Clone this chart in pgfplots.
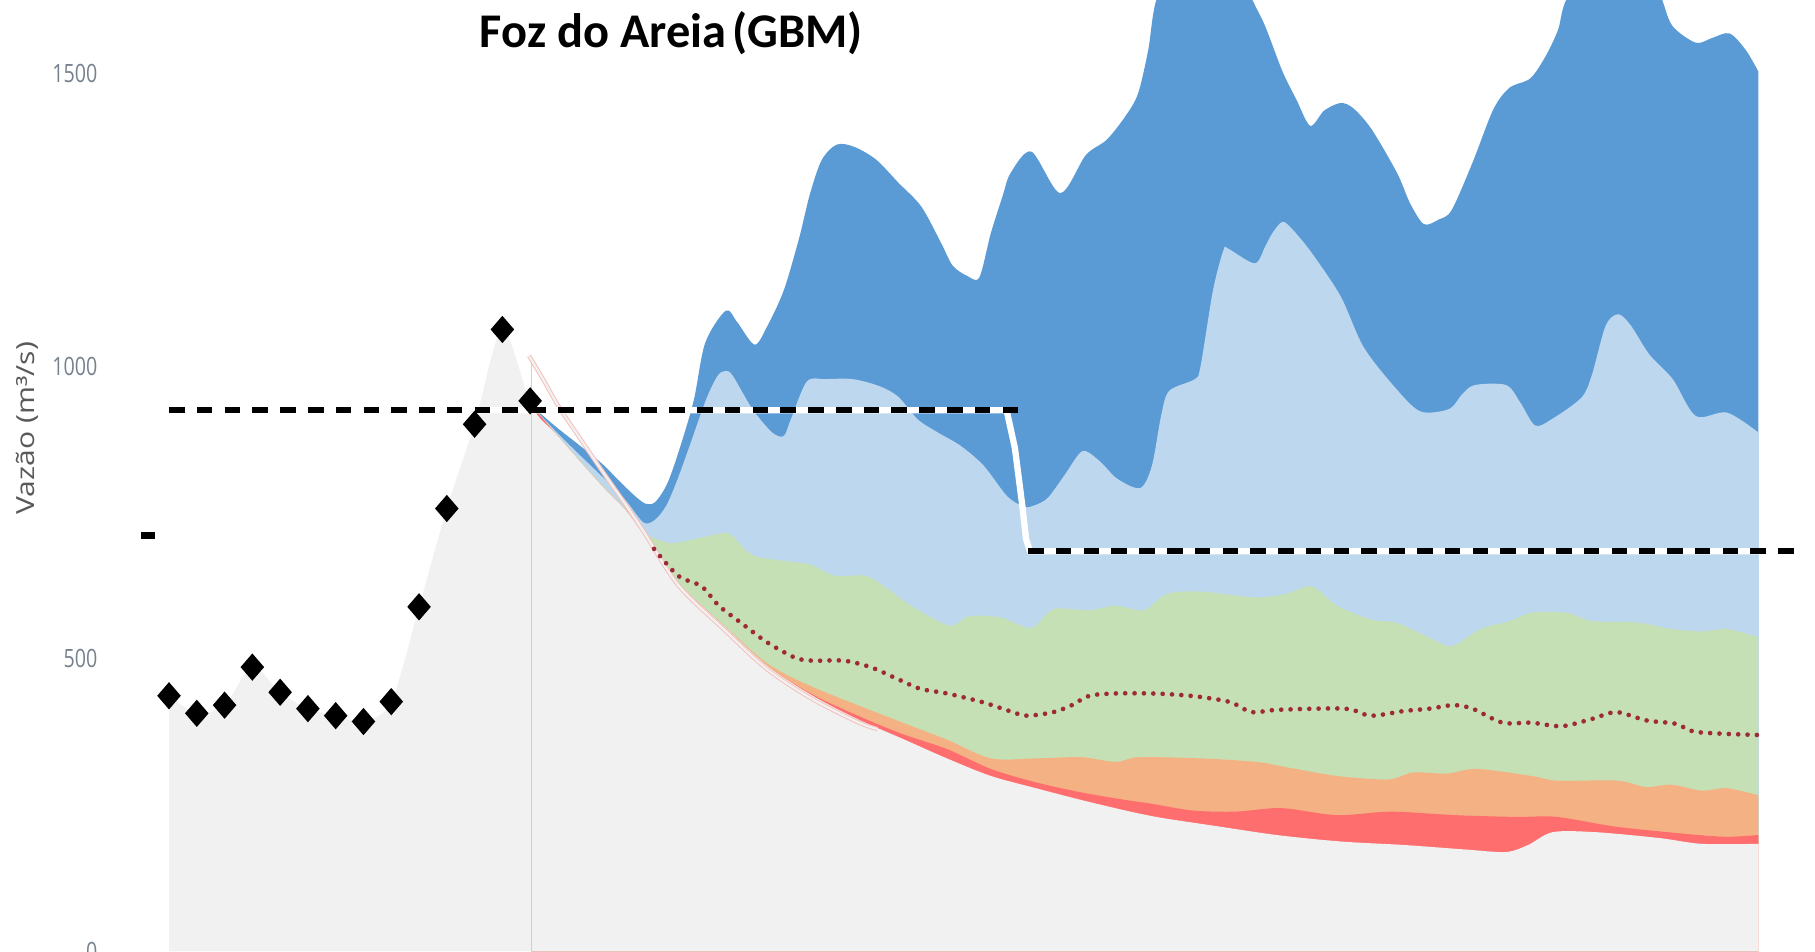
\documentclass[border=0pt]{standalone}
\usepackage{fontspec}
\usepackage{pgfplots}
\pgfplotsset{compat=1.18}
\setmainfont{Open Sans}
\newfontfamily\titlefont{Carlito}
\definecolor{dblue}{HTML}{5B9BD5}
\definecolor{lblue}{HTML}{BDD7EE}
\definecolor{lgreen}{HTML}{C5E0B4}
\definecolor{lorange}{HTML}{F4B183}
\definecolor{lred}{HTML}{FF6E6E}
\definecolor{grayfill}{HTML}{F1F1F1}
\definecolor{medred}{HTML}{9E2A36}
\definecolor{pinkline}{HTML}{F4C2BD}
\definecolor{tickgray}{HTML}{76818E}
\definecolor{labgray}{HTML}{595959}
\begin{document}
\begin{tikzpicture}
\begin{axis}[
  at={(10mm,0mm)}, anchor=south west,
  scale only axis, width=146.8mm, height=82.2mm,
  xmin=-1.917, xmax=59.25, ymin=0, ymax=1626,
  axis line style={draw=none},
  xtick=\empty,
  ytick={0,500,1000,1500},
  major tick length=0pt,
  /pgf/number format/assume math mode=true,
  /pgf/number format/1000 sep={},
  yticklabel={\scalebox{0.78}[1]{\pgfmathprintnumber{\tick}}},
  yticklabel style={font=\fontsize{6.2}{7}\selectfont, text=tickgray, xshift=-1pt},
  ylabel={\scalebox{1}[0.83]{Vazão (m³/s)}},
  ylabel style={at={(axis description cs:-0.0518,0.55)}, anchor=center, font=\fontsize{7.4}{9}\selectfont, text=labgray},
  clip=true,
]
% dark blue (upper envelope)
\addplot[draw=none, fill=dblue, smooth, tension=0.5] coordinates {
(13.04,933) (13.92,897) (14.75,866) (15.58,834) (16.25,802) (16.83,776) (17.17,765) (17.50,768) (17.92,798) (18.33,852) (18.88,940) (19.30,1040) (20.04,1095) (20.46,1075) (21.08,1037) (21.54,1069) (22.13,1130) (22.67,1217) (23.08,1296) (23.50,1353) (24.04,1379) (24.67,1375) (25.46,1353) (26.25,1314) (27.08,1273) (27.79,1211) (28.21,1172) (28.75,1154) (29.17,1152) (29.58,1227) (30.00,1290) (30.29,1330) (31.04,1367) (32.08,1296) (33.00,1361) (33.75,1387) (34.42,1427) (34.88,1466) (35.25,1541) (35.54,1626) (36.42,1720) (37.67,1760) (39.00,1626) (39.46,1581) (40.08,1504) (40.58,1456) (41.08,1411) (41.58,1437) (42.17,1450) (42.63,1441) (43.29,1405) (44.21,1330) (44.67,1279) (45.17,1243) (45.71,1251) (46.17,1267) (46.92,1348) (47.67,1439) (48.25,1476) (49.00,1492) (49.54,1529) (50.00,1575) (50.29,1626) (51.42,1720) (53.08,1720) (53.75,1626) (54.13,1581) (54.96,1553) (55.54,1561) (56.17,1569) (56.75,1541) (57.21,1504)
} \closedcycle;
% light blue
\addplot[draw=none, fill=lblue, smooth, tension=0.5] coordinates {
(13.04,933) (13.92,889) (14.75,850) (15.58,812) (16.42,772) (17.08,733) (17.50,738) (17.90,762) (18.29,805) (18.71,860) (19.33,943) (19.75,984) (20.04,992) (20.29,984) (21.00,927) (21.71,887) (22.13,881) (22.38,909) (22.96,974) (23.63,978) (24.63,978) (25.58,966) (26.25,948) (26.96,909) (27.67,887) (28.50,864) (29.33,830) (30.17,778) (30.79,760) (31.13,762) (31.63,775) (32.25,815) (32.88,855) (33.50,838) (34.13,808) (34.96,792) (35.38,830) (35.71,915) (36.00,958) (36.92,978) (37.13,1000) (37.58,1130) (37.96,1199) (38.13,1201) (39.08,1176) (39.46,1205) (39.71,1227) (40.08,1247) (40.46,1233) (41.13,1194) (42.17,1120) (43.00,1033) (44.13,964) (45.04,923) (46.08,927) (46.54,952) (47.00,968) (48.13,968) (48.63,939) (49.17,899) (49.75,909) (50.83,946) (51.21,984) (51.71,1069) (52.17,1089) (52.63,1069) (53.29,1020) (54.13,978) (54.96,915) (56.08,921) (57.21,887)
} \closedcycle;
% green
\addplot[draw=none, fill=lgreen, smooth, tension=0.5] coordinates {
(13.04,933) (13.92,886) (14.75,842) (15.58,798) (16.42,757) (17.08,716) (18.04,698) (18.92,705) (19.96,715) (20.29,710) (21.08,676) (23.00,662) (23.96,642) (25.08,642) (25.92,618) (26.71,591) (28.08,557) (28.79,573) (29.92,571) (31.04,553) (31.83,585) (33.13,583) (34.08,591) (35.08,583) (35.92,611) (37.13,615) (39.13,605) (40.21,611) (41.13,624) (42.04,591) (43.29,567) (44.17,562) (45.25,539) (46.17,522) (47.21,551) (48.29,565) (49.04,579) (50.29,579) (51.21,565) (52.88,562) (54.08,551) (55.17,547) (56.08,551) (57.21,537)
} \closedcycle;
% orange
\addplot[draw=none, fill=lorange, smooth, tension=0.5] coordinates {
(13.04,933) (13.92,885) (14.75,840) (15.58,796) (16.42,755) (17.08,713) (18.33,630) (19.96,558) (21.54,492) (23.17,452) (25.92,400) (28.00,362) (29.58,330) (31.21,330) (32.83,332) (34.08,324) (34.92,332) (37.13,330) (39.13,324) (40.21,315) (42.04,300) (43.88,294) (44.79,306) (46.00,304) (47.08,312) (49.04,300) (49.96,292) (52.13,292) (53.17,281) (54.08,285) (55.17,275) (56.08,279) (57.21,267)
} \closedcycle;
% red
\addplot[draw=none, fill=lred, smooth, tension=0.5] coordinates {
(13.04,933) (13.92,885) (14.75,840) (15.58,796) (16.42,755) (17.08,713) (18.33,630) (19.96,557) (21.54,488) (23.17,439) (24.79,403) (26.38,372) (28.00,346) (29.58,312) (31.21,289) (32.83,272) (34.42,259) (35.31,253) (36.83,241) (38.38,239) (40.04,245) (42.04,233) (44.00,239) (46.29,233) (48.46,230) (49.96,230) (52.13,213) (54.83,200) (56.08,196) (57.21,199)
} \closedcycle;
% gray: observed + lower envelope
\addplot[draw=none, fill=grayfill, smooth, tension=0.5] coordinates {
(0,437) (1,407) (2,421) (3,486) (4,443) (5,415) (6,403) (7,393) (8,427) (9,589) (10,757) (11,901) (12,1063) (13.04,933) (13.92,885) (14.75,840) (15.58,796) (16.42,755) (17.08,713) (18.33,630) (19.96,557) (21.54,488) (23.17,437) (24.79,397) (26.38,364) (28.00,330) (29.58,300) (31.21,279) (32.83,259) (34.42,241) (35.31,232) (36.04,226) (37.60,215) (39.88,199) (42.17,188) (44.46,182) (46.75,174) (48.13,170) (48.92,182) (49.81,204) (51.33,204) (53.63,194) (55.17,184) (57.21,184)
} \closedcycle;
% thin vertical lines
\addplot[pinkline, line width=0.3pt] coordinates {(13.04,0) (13.04,1018)};
\addplot[pinkline!60, line width=0.3pt] coordinates {(57.21,0) (57.21,184)};
% pink envelope line
\addplot[pinkline, line width=0.25pt, double=grayfill, double distance=0.55pt, smooth, tension=0.5] coordinates {
(12.96,1018) (13.50,975) (14.04,930) (14.75,880) (15.58,822) (16.42,765) (17.08,718) (18.33,626) (19.96,551) (21.54,482) (23.17,431) (24.79,392) (25.50,380)
};
% median (dotted)
\addplot[medred, line width=1.15pt, line cap=round, dash pattern=on 0pt off 2.3pt, smooth, tension=0.5] coordinates {
(17.46,688) (18.33,642) (19.17,624) (19.79,591) (20.58,562) (21.54,528) (22.54,502) (23.17,497) (24.29,497) (25.25,486) (26.21,466) (27.04,449) (28.00,441) (29.29,426) (30.25,411) (30.88,403) (31.83,409) (32.50,421) (33.13,437) (34.08,441) (35.31,441) (36.23,439) (37.13,435) (38.21,426) (38.98,409) (39.90,413) (42.33,415) (43.25,403) (44.46,411) (45.38,415) (46.23,421) (46.92,415) (48.00,391) (49.04,391) (50.13,385) (51.19,397) (52.10,409) (53.17,395) (54.25,389) (55.00,375) (57.21,370)
};
% reference dashed line: white underlay
\addplot[white, line width=1.55pt] coordinates {(0,925) (30.15,925) (30.45,860) (30.72,760) (30.85,705) (30.99,684) (58.79,684)};
\addplot[black, line width=1.55pt, dash pattern=on 3.84pt off 2.99pt] coordinates {(0,925) (30.60,925)};
\addplot[black, line width=1.55pt, dash pattern=on 3.84pt off 2.99pt] coordinates {(30.92,684) (58.79,684)};
% short mark
\addplot[black, line width=1.55pt] coordinates {(-1.0,711) (-0.5,711)};
% observed weekly values
\addplot[only marks, mark=diamond*, mark size=3.05pt, mark options={xscale=1.15, fill=black, draw=black}] coordinates {
(0,437) (1,407) (2,421) (3,486) (4,443) (5,415) (6,403) (7,393) (8,427) (9,589) (10,757) (11,901) (12,1063) (13,941)
};
\node[font=\titlefont\bfseries\fontsize{11.9}{13}\selectfont] at (axis cs:18.08,1570) {Foz do Areia\hspace{0.12em}(GBM)};
\end{axis}
\pgfresetboundingbox
\path[use as bounding box] (0,0) rectangle (156.8mm,82.2mm);
\end{tikzpicture}
\end{document}
